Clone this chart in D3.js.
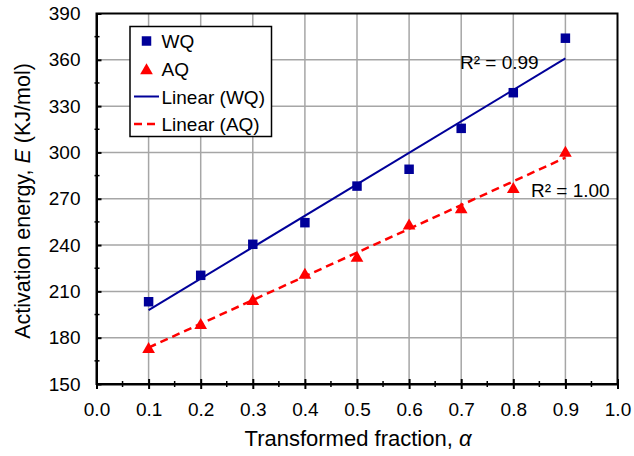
<!DOCTYPE html>
<html>
<head>
<meta charset="utf-8">
<script src="https://cdn.jsdelivr.net/npm/d3@7"></script>
<style>
  body { margin: 0; background: #fff; }
  svg text { font-family: "Liberation Sans", Arial, sans-serif; fill: #000; }
</style>
</head>
<body>
<svg id="chart" width="634" height="456"></svg>
<script>
var alphas = [0.1, 0.2, 0.3, 0.4, 0.5, 0.6, 0.7, 0.8, 0.9];
var wqValues = [203.3, 220.4, 240.5, 254.5, 278.2, 289.1, 315.6, 338.7, 374.0];
var aqValues = [173.5, 189.0, 204.6, 221.5, 232.5, 253.5, 264.0, 277.0, 300.5];
var xTicks = [0, 0.1, 0.2, 0.3, 0.4, 0.5, 0.6, 0.7, 0.8, 0.9, 1.0];
var yTicks = [150, 180, 210, 240, 270, 300, 330, 360, 390];
var legendLabels = ['WQ', 'AQ', 'Linear (WQ)', 'Linear (AQ)'];
var r2Labels = ['R\u00b2 = 0.99', 'R\u00b2 = 1.00'];

var margin = {left: 96.5, top: 13.5, right: 16.5, bottom: 72};
var W = 634, H = 456;
var svg = d3.select('#chart');

var x = d3.scaleLinear().domain([0, 1]).range([margin.left, W - margin.right]);
var y = d3.scaleLinear().domain([150, 390]).range([H - margin.bottom, margin.top]);

// least squares fit
function fit(xs, ys) {
    var mx = d3.mean(xs), my = d3.mean(ys);
    var sxy = 0, sxx = 0;
    xs.forEach(function (v, i) { sxy += (v - mx) * (ys[i] - my); sxx += (v - mx) * (v - mx); });
    var b = sxy / sxx;
    return {slope: b, icpt: my - b * mx};
}

// grid
var grid = svg.append('g').attr('stroke', '#a6a6a6').attr('stroke-width', 1.5);
grid.selectAll('line.gx').data(xTicks.slice(1, -1)).enter().append('line')
    .attr('x1', function (d) { return x(d); }).attr('x2', function (d) { return x(d); })
    .attr('y1', y(150)).attr('y2', y(390));
grid.selectAll('line.gy').data(yTicks.slice(1, -1)).enter().append('line')
    .attr('y1', function (d) { return y(d); }).attr('y2', function (d) { return y(d); })
    .attr('x1', x(0)).attr('x2', x(1));

// frame
svg.append('rect').attr('x', x(0)).attr('y', y(390))
    .attr('width', x(1) - x(0)).attr('height', y(150) - y(390))
    .attr('fill', 'none').attr('stroke', '#000').attr('stroke-width', 2);

// minor ticks
var minorX = d3.range(0.05, 1, 0.1);
svg.selectAll('line.mx').data(minorX).enter().append('line')
    .attr('x1', function (d) { return x(d); }).attr('x2', function (d) { return x(d); })
    .attr('y1', y(150) - 3).attr('y2', y(150) + 3)
    .attr('stroke', '#000').attr('stroke-width', 1.5);
var minorY = d3.range(165, 390, 30);
svg.selectAll('line.my').data(minorY).enter().append('line')
    .attr('y1', function (d) { return y(d); }).attr('y2', function (d) { return y(d); })
    .attr('x1', x(0) - 2).attr('x2', x(0) + 3)
    .attr('stroke', '#000').attr('stroke-width', 1.5);

// axes
var xAxis = svg.append('g').attr('transform', 'translate(0,' + y(150) + ')')
    .call(d3.axisBottom(x).tickValues(xTicks).tickFormat(d3.format('.1f')).tickSizeInner(5).tickSizeOuter(0).tickPadding(14));
var yAxis = svg.append('g').attr('transform', 'translate(' + x(0) + ',0)')
    .call(d3.axisLeft(y).tickValues(yTicks).tickSizeInner(6).tickSizeOuter(0).tickPadding(10));
[xAxis, yAxis].forEach(function (a) {
    a.select('.domain').attr('stroke', '#000').attr('stroke-width', 2);
    a.selectAll('.tick line').attr('stroke', '#000').attr('stroke-width', 2);
    a.selectAll('.tick text').attr('font-size', 19).attr('font-family', '"Liberation Sans", Arial, sans-serif').attr('fill', '#000');
});
xAxis.selectAll('.tick line').attr('y1', -5);
yAxis.selectAll('.tick line').attr('x2', 5);

// trend lines
var fw = fit(alphas, wqValues), fa = fit(alphas, aqValues);
var ends = [0.1, 0.9];
var line = d3.line().x(function (d) { return x(d[0]); }).y(function (d) { return y(d[1]); });
svg.append('path')
    .attr('d', line(ends.map(function (a) { return [a, fw.icpt + fw.slope * a]; })))
    .attr('stroke', '#000099').attr('stroke-width', 2).attr('fill', 'none');
svg.append('path')
    .attr('d', line(ends.map(function (a) { return [a, fa.icpt + fa.slope * a]; })))
    .attr('stroke', '#ff0000').attr('stroke-width', 2.5).attr('stroke-dasharray', '8,5').attr('fill', 'none');

// markers
var sq = d3.symbol().type(d3.symbolSquare).size(90);
var tri = d3.symbol().type(d3.symbolTriangle).size(70);
svg.selectAll('path.wq').data(alphas).enter().append('path')
    .attr('d', sq).attr('fill', '#000099')
    .attr('transform', function (d, i) { return 'translate(' + x(d) + ',' + y(wqValues[i]) + ')'; });
svg.selectAll('path.aq').data(alphas).enter().append('path')
    .attr('d', tri).attr('fill', '#ff0000')
    .attr('transform', function (d, i) { return 'translate(' + x(d) + ',' + (y(aqValues[i]) + 1.5) + ')'; });

// R2 labels
svg.append('text').attr('x', 460).attr('y', 69).attr('font-size', 19).text(r2Labels[0]);
svg.append('text').attr('x', 531).attr('y', 197).attr('font-size', 19).text(r2Labels[1]);

// axis titles
svg.append('text').attr('x', 358).attr('y', 446).attr('text-anchor', 'middle')
    .attr('font-size', 22)
    .html('Transformed fraction, <tspan font-style="italic">\u03b1</tspan>');
svg.append('text').attr('transform', 'translate(30,201) rotate(-90)')
    .attr('text-anchor', 'middle').attr('font-size', 21.5)
    .html('Activation energy, <tspan font-style="italic">E</tspan> (KJ/mol)');

// legend
var lg = svg.append('g');
lg.append('rect').attr('x', 130).attr('y', 26.5).attr('width', 141.5).attr('height', 110)
    .attr('fill', '#fff').attr('stroke', '#000').attr('stroke-width', 1.5);
var rows = [41, 69, 96.5, 124];
lg.append('path').attr('d', sq).attr('fill', '#000099').attr('transform', 'translate(146.5,' + rows[0] + ')');
lg.append('path').attr('d', tri).attr('fill', '#ff0000').attr('transform', 'translate(146.5,' + (rows[1] + 1.5) + ')');
lg.append('line').attr('x1', 134).attr('x2', 159).attr('y1', rows[2]).attr('y2', rows[2])
    .attr('stroke', '#000099').attr('stroke-width', 2);
lg.append('line').attr('x1', 134).attr('x2', 159).attr('y1', rows[3]).attr('y2', rows[3])
    .attr('stroke', '#ff0000').attr('stroke-width', 2.5).attr('stroke-dasharray', '8,5');
lg.selectAll('text.lt').data(legendLabels).enter().append('text')
    .attr('x', 161.5).attr('y', function (d, i) { return rows[i] + 7; })
    .attr('font-size', 19).text(function (d) { return d; });
</script>
</body>
</html>
